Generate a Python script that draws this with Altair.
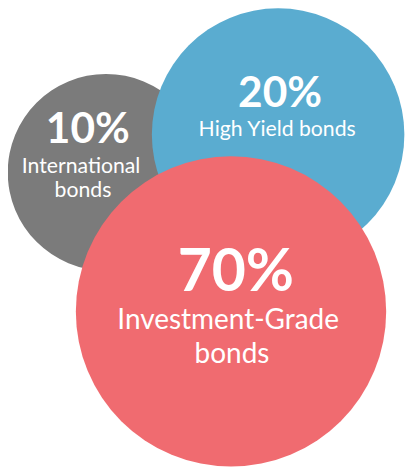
import altair as alt
import pandas as pd

# shares of the bond allocation
segments = ["International bonds", "High Yield bonds", "Investment-Grade bonds"]
shares = [10, 20, 70]
name_lines = [["International", "bonds"], ["High Yield bonds"], ["Investment-Grade", "bonds"]]
colors = ["#7b7b7b", "#5aacd0", "#f06b70"]

# bubble layout, in reference units (413 x 475 canvas, y downwards)
cx = [102, 281, 232]
cy = [170, 131, 314]
radius = [102, 131, 161]
pct_x = [83, 283, 237]
pct_y = [140, 102, 293]
pct_font = [44, 44, 61]
line_x = [[76, 78], [280], [229, 233]]
line_y = [[171, 196], [132], [332, 367]]
line_font = [22, 22, 29]

W, H = 397, 459
kx, ky = W / 413, H / 475
k = (kx + ky) / 2

bubbles = pd.DataFrame({
    "segment": segments,
    "share": shares,
    "x": cx,
    "y": cy,
    "size": [(2 * r * k) ** 2 for r in radius],
    "order": [0, 1, 2],
})

pct = pd.DataFrame({
    "label": [f"{s}%" for s in shares],
    "x": pct_x,
    "y": pct_y,
    "font": [f * k for f in pct_font],
})

rows = []
for i, lines in enumerate(name_lines):
    for j, t in enumerate(lines):
        rows.append({"label": t, "x": line_x[i][j], "y": line_y[i][j], "font": line_font[i] * k})
names = pd.DataFrame(rows)

xs = alt.Scale(domain=[0, 413], range=[0, W])
ys = alt.Scale(domain=[0, 475], range=[0, H])

circles = alt.Chart(bubbles).mark_circle(opacity=1).encode(
    x=alt.X("x:Q", scale=xs, axis=None),
    y=alt.Y("y:Q", scale=ys, axis=None),
    size=alt.Size("size:Q", scale=None, legend=None),
    color=alt.Color("segment:N", scale=alt.Scale(domain=segments, range=colors), legend=None),
    order=alt.Order("order:Q"),
)

pct_text = alt.Chart(pct).mark_text(
    font="Lato", fontWeight="bold", color="white", align="center", baseline="alphabetic"
).encode(
    x=alt.X("x:Q", scale=xs, axis=None),
    y=alt.Y("y:Q", scale=ys, axis=None),
    text="label:N",
    size=alt.Size("font:Q", scale=None, legend=None),
)

name_text = alt.Chart(names).mark_text(
    font="Lato", color="white", align="center", baseline="alphabetic"
).encode(
    x=alt.X("x:Q", scale=xs, axis=None),
    y=alt.Y("y:Q", scale=ys, axis=None),
    text="label:N",
    size=alt.Size("font:Q", scale=None, legend=None),
)

chart = (
    alt.layer(circles, pct_text, name_text)
    .properties(width=W, height=H, padding=0, autosize="none")
    .configure_view(stroke=None)
)

chart.save("out.html", embed_options={"renderer": "svg", "actions": False})
